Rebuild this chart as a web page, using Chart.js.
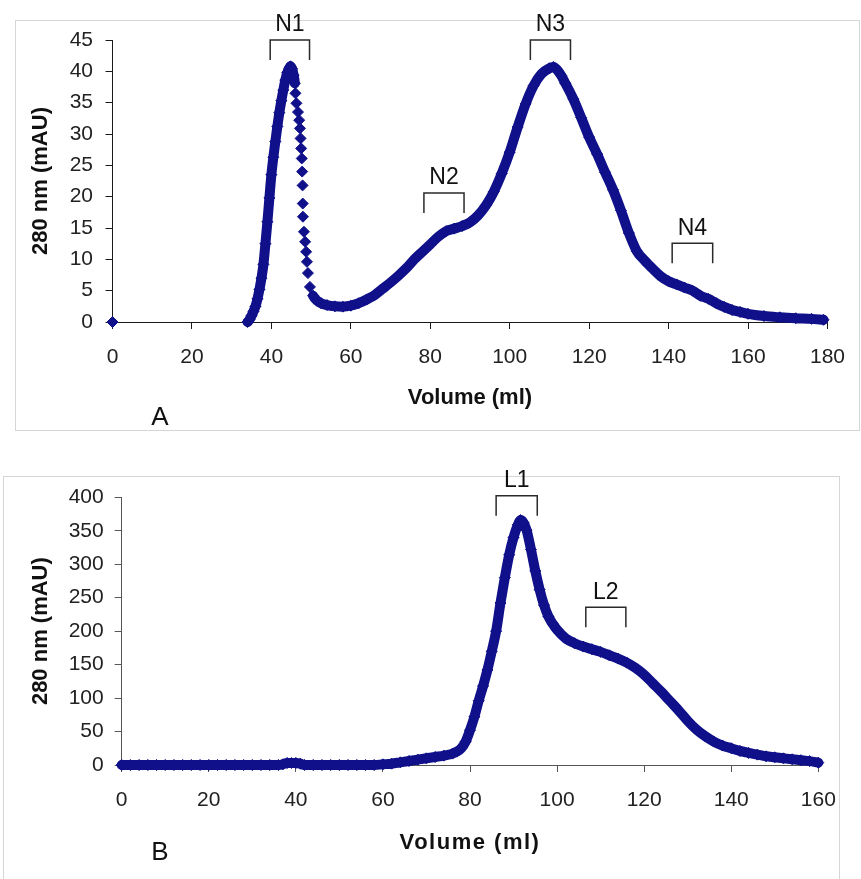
<!DOCTYPE html>
<html>
<head>
<meta charset="utf-8">
<script src="https://cdn.jsdelivr.net/npm/chart.js@4/dist/chart.umd.min.js"></script>
<style>
  html, body { margin: 0; padding: 0; background: #fff; }
  body { width: 861px; height: 879px; position: relative; overflow: hidden; }
  .frame { position: absolute; border: 1px solid #d6d6d6; box-sizing: border-box; }
  #frameA { left: 15px; top: 20px; width: 845px; height: 411px; }
  #frameB { left: 3px; top: 476px; width: 837px; height: 430px; }
  .panel { position: absolute; left: 0; width: 861px; }
  #wrapA { top: 0; height: 440px; }
  #wrapB { top: 440px; height: 439px; }
</style>
</head>
<body>
<div class="frame" id="frameA"></div>
<div class="frame" id="frameB"></div>
<div class="panel" id="wrapA"><canvas id="chartA" width="861" height="440"></canvas></div>
<div class="panel" id="wrapB"><canvas id="chartB" width="861" height="439"></canvas></div>
<script>
// Panel A: elution volume (ml) and absorbance at 280 nm (mAU)
const volumeA = [
  0, 34, 34.5, 35, 35.5, 36, 36.5, 37, 37.5, 38, 38.5, 39, 39.5, 40, 40.5, 41, 41.5, 42, 42.5, 43, 43.5, 44, 44.5, 44.8,
  45.2, 45.6, 45.9, 46.05, 46.3, 46.7, 47.0, 47.2, 47.35, 47.5, 47.65, 47.75, 47.85, 47.9, 47.95, 48.2, 48.5, 48.75, 48.95, 49.2,
  49.7, 50.5, 51.5, 52.5, 54, 56, 58, 60, 62, 64, 66, 68, 70, 72, 74, 76, 78, 80, 82, 84, 86, 88, 90, 92, 94, 96, 98,
  100, 102, 104, 106, 108, 110, 111, 112, 113, 114, 116, 118, 120, 122, 124, 126, 128, 130, 132, 134, 136, 138, 140,
  142, 144, 146, 148, 150, 152, 154, 156, 158, 160, 164, 168, 172, 176, 179
];
const signalA = [
  0, 0, 0.4, 1.0, 1.7, 2.5, 3.7, 5.2, 7.0, 9.2, 12.5, 16.0, 19.8, 23.5, 26.3, 28.8, 31.2, 33.4, 35.3, 37.0, 38.6, 39.8, 40.5, 40.8,
  40.4, 39.4, 38.1, 36.5, 34.9, 33.5, 32.2, 30.9, 29.3, 27.7, 26.1, 24.0, 21.8, 18.9, 16.8, 14.4, 12.8, 11.2, 9.6, 7.8,
  5.6, 4.2, 3.4, 3.0, 2.7, 2.5, 2.45, 2.6, 3.0, 3.6, 4.3, 5.3, 6.3, 7.4, 8.6, 10.0, 11.2, 12.4, 13.6, 14.5, 14.9, 15.3, 15.9, 17.0, 18.6, 20.8, 23.7,
  27.1, 31.1, 34.8, 37.7, 39.6, 40.5, 40.7, 40.2, 39.3, 38.1, 35.6, 32.6, 29.5, 26.8, 23.9, 21.1, 17.8, 14.2, 11.3, 9.8, 8.5, 7.3, 6.5,
  6.0, 5.5, 5.0, 4.2, 3.7, 3.0, 2.4, 1.9, 1.6, 1.3, 0.95, 0.75, 0.6, 0.5, 0.35
];

// Panel B
const volumeB = [
  0, 2, 4, 6, 8, 10, 12, 14, 16, 18, 20, 22, 24, 26, 28, 30, 32, 34, 36, 37, 38, 39, 40, 41, 42, 44, 46, 48, 50, 52, 54, 56, 58,
  60, 62, 64, 66, 68, 70, 72, 74, 76, 77, 78, 79, 80, 81, 82, 83, 84, 85, 86, 87, 88, 89, 90, 91, 91.6, 92.3, 93, 94, 95, 96, 97,
  98, 99, 100, 102, 104, 106, 108, 110, 112, 114, 116, 118, 120, 122, 124, 126, 128, 130, 132, 134, 136, 138, 140, 142, 144,
  146, 148, 150, 152, 154, 156, 158, 160
];
const signalB = [
  0, 0, 0, 0, 0, 0, 0, 0, 0, 0, 0, 0, 0, 0, 0, 0, 0, 0, 0, 1, 3, 3, 3, 2, 0, 0, 0, 0, 0, 0, 0, 0, 0,
  1, 2, 4, 6, 8, 10, 12, 14, 17, 20, 25, 35, 52, 72, 96, 118, 142, 170, 200, 242, 280, 314, 340, 359, 366, 362, 351, 322, 290, 262, 239,
  222, 211, 202, 189, 182, 177, 173, 169, 164, 159, 153, 145, 135, 122, 109, 95, 81, 66, 53, 43, 35, 29, 25, 21, 18,
  15.5, 13, 11.5, 10, 8.5, 7.2, 5.8, 3.5
];

// Pooled fractions marked above the peaks
const fractionNamesA = ['N1', 'N2', 'N3', 'N4'];
const fractionFromA  = [39.7, 78.4, 105.2, 140.9];
const fractionToA    = [49.6, 88.5, 115.3, 151.1];
const fractionLevelA = [45, 20.6, 45, 12.55];

const fractionNamesB = ['L1', 'L2'];
const fractionFromB  = [86.0, 106.6];
const fractionToB    = [95.45, 115.8];
const fractionLevelB = [402.5, 235.7];

const NAVY = '#10108a';
const FONT = '"Liberation Sans", Arial, Helvetica, sans-serif';

const annotate = {
  id: 'annotate',
  afterDraw(chart, _args, o) {
    const { ctx, chartArea: a, scales: { x, y } } = chart;
    ctx.save();
    ctx.strokeStyle = '#2a2a2a';
    ctx.lineWidth = 1.5;
    ctx.fillStyle = '#111';
    ctx.textAlign = 'center';
    ctx.textBaseline = 'middle';
    ctx.font = '23px ' + FONT;
    o.names.forEach((name, i) => {
      const x0 = x.getPixelForValue(o.from[i]);
      const x1 = x.getPixelForValue(o.to[i]);
      const yt = y.getPixelForValue(o.level[i]);
      ctx.beginPath();
      ctx.moveTo(x0, yt + 20);
      ctx.lineTo(x0, yt);
      ctx.lineTo(x1, yt);
      ctx.lineTo(x1, yt + 20);
      ctx.stroke();
      ctx.fillText(name, (x0 + x1) / 2, yt - 15);
    });

    // axis titles
    ctx.font = 'bold 22px ' + FONT;
    ctx.letterSpacing = o.xTitleSpacing;
    ctx.fillText(o.xTitle, (a.left + a.right) / 2, a.bottom + o.xTitleOffset);
    ctx.letterSpacing = '0px';
    ctx.save();
    ctx.translate(41, (a.top + a.bottom) / 2);
    ctx.rotate(-Math.PI / 2);
    ctx.fillText(o.yTitle, 0, 0);
    ctx.restore();

    // panel letter
    ctx.font = '26px ' + FONT;
    ctx.fillText(o.panel, o.panelX, o.panelY);
    ctx.restore();
  }
};

function makeChart(id, xs, ys, cfg) {
  const points = xs.map((v, i) => ({ x: v, y: ys[i] }));
  const axisColor = cfg.axisColor;
  const tickFont = { family: FONT, size: 21 };
  return new Chart(document.getElementById(id), {
    type: 'scatter',
    data: {
      datasets: [{
        data: points,
        showLine: true,
        borderColor: NAVY,
        borderWidth: 10,
        borderJoinStyle: 'round',
        borderCapStyle: 'round',
        cubicInterpolationMode: 'monotone',
        pointStyle: 'rectRot',
        pointRadius: 5.5,
        pointBackgroundColor: NAVY,
        pointBorderColor: NAVY,
        pointBorderWidth: 1,
        clip: false,
        segment: {
          borderColor: ctx => cfg.hideSegment(ctx.p0.parsed.x, ctx.p1.parsed.x) ? 'rgba(0,0,0,0)' : NAVY
        }
      }]
    },
    options: {
      responsive: false,
      animation: false,
      events: [],
      layout: { padding: { left: 0, right: cfg.padRight, top: cfg.padTop, bottom: 0 } },
      plugins: {
        legend: { display: false },
        tooltip: { enabled: false },
        annotate: cfg.annotate
      },
      scales: {
        x: {
          type: 'linear',
          min: 0, max: cfg.xMax,
          ticks: { stepSize: 20, padding: 16, font: tickFont, color: '#222' },
          grid: { drawOnChartArea: false, drawTicks: true, tickLength: 7, color: axisColor, lineWidth: 1 },
          border: { color: axisColor, width: 1 },
          afterFit: s => { s.height = cfg.xAxisHeight; }
        },
        y: {
          type: 'linear',
          min: 0, max: cfg.yMax,
          ticks: { stepSize: cfg.yStep, padding: cfg.yTickPad, font: tickFont, color: '#222' },
          grid: { drawOnChartArea: false, drawTicks: true, tickLength: 7, color: axisColor, lineWidth: 1 },
          border: { color: axisColor, width: 1 },
          afterFit: s => { s.width = cfg.yAxisWidth; }
        }
      }
    },
    plugins: [annotate]
  });
}

makeChart('chartA', volumeA, signalA, {
  xMax: 180, yMax: 45, yStep: 5,
  axisColor: '#1a1a1a',
  padRight: 19.3, padTop: 40,
  xAxisHeight: 118, yAxisWidth: 112.5, yTickPad: 12.5,
  hideSegment: (a, b) => (b - a > 10) || (a >= 45.8 && b <= 50.6),
  annotate: {
    names: fractionNamesA, from: fractionFromA, to: fractionToA, level: fractionLevelA,
    xTitle: 'Volume (ml)', xTitleSpacing: '0px', xTitleOffset: 76,
    yTitle: '280 nm (mAU)', panel: 'A', panelX: 160, panelY: 418
  }
});

makeChart('chartB', volumeB, signalB, {
  xMax: 160, yMax: 400, yStep: 50,
  axisColor: '#555',
  padRight: 42.7, padTop: 57.3,
  xAxisHeight: 114, yAxisWidth: 121.7, yTickPad: 11,
  hideSegment: () => false,
  annotate: {
    names: fractionNamesB, from: fractionFromB, to: fractionToB, level: fractionLevelB,
    xTitle: 'Volume (ml)', xTitleSpacing: '1.5px', xTitleOffset: 78,
    yTitle: '280 nm (mAU)', panel: 'B', panelX: 160, panelY: 412.5
  }
});
</script>
</body>
</html>
